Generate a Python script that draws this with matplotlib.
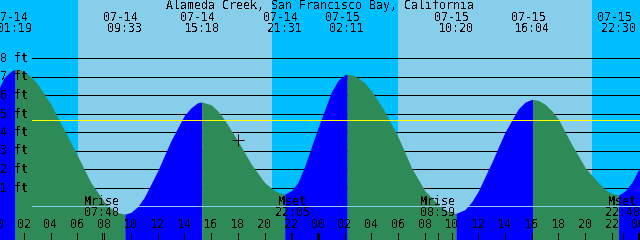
import numpy as np
import matplotlib
matplotlib.use("Agg")
import matplotlib.pyplot as plt
from matplotlib.transforms import blended_transform_factory

plt.rcParams["font.family"] = ["DejaVu Sans Mono"]
plt.rcParams["text.antialiased"] = False

# =========================
# DATA
# =========================
TITLE = "Alameda Creek, San Francisco Bay, California"

# tide extremes
event_dates = ["07-14", "07-14", "07-14", "07-14", "07-15", "07-15", "07-15", "07-15"]
event_times = ["01:19", "09:33", "15:18", "21:31", "02:11", "10:20", "16:04", "22:30"]
event_hours = [1.317, 9.55, 15.3, 21.517, 26.183, 34.333, 40.067, 46.5]

# water level (ft) sampled along the curve, hours from 07-14 00:00
curve_hours = [-0.5, 0, 0.5, 1, 1.317, 1.7, 2, 2.5, 3, 4, 5, 6, 7, 8, 8.5, 9, 9.55,
               10, 10.5, 11, 12, 13, 14, 14.5, 15, 15.3, 16, 16.5, 17, 18, 19, 20, 20.5, 21, 21.517,
               22, 22.5, 23, 24, 25, 25.5, 26, 26.183, 26.6, 27, 27.5, 28, 29, 30, 31, 32, 33, 33.5,
               34, 34.333, 35, 35.5, 36, 37, 38, 39, 39.5, 40, 40.067, 40.5, 41, 41.5, 42, 43, 44,
               45, 45.5, 46, 46.5, 47, 47.5, 48, 48.5]
curve_feet = [5.4, 6.2, 6.95, 7.3, 7.42, 7.38, 7.29, 7.03, 6.64, 5.54, 4.15, 2.75, 1.3, 0.26, -0.1,
              -0.33, -0.41,
              -0.32, -0.01, 0.49, 1.92, 3.56, 4.92, 5.34, 5.61, 5.65, 5.5, 5.17, 4.7, 3.55, 2.3, 1.3,
              1.0, 0.76, 0.68,
              0.85, 1.3, 2.16, 4.24, 6.18, 6.81, 7.12, 7.15, 7.1, 6.96, 6.68, 6.26, 5.14, 3.76, 2.1,
              0.85, 0.11, -0.18,
              -0.34, -0.37, -0.17, 0.24, 0.83, 2.37, 4.02, 5.28, 5.64, 5.79, 5.79, 5.73, 5.53, 5.18,
              4.72, 3.35, 2.1,
              1.28, 0.92, 0.7, 0.62, 0.85, 1.3, 2.0, 2.7]

# sunrise / sunset (hours)
sunrise = [6.04, 29.98]
sunset = [20.56, 44.5]

# moon events
moon_names = ["Mrise", "Mset", "Mrise", "Mset"]
moon_times = ["07:48", "22:05", "08:59", "22:48"]
moon_hours = [7.8, 22.083, 32.983, 46.8]

level_lines = [1, 2, 3, 4, 5, 6, 7, 8]
mean_level = 4.66
now_hour, now_feet = 18.02, 3.62

# =========================
# COLOURS
# =========================
DAY = "#87CEEB"
NIGHT = "#00BFFF"
RISE = "#0000FF"
FALL = "#2E8B57"

W, H = 640, 240
X0, X1 = 0.202, 48.106
Y0, Y1 = -1.811, 11.162
FS = 8.4
PX = 0.72  # one pixel in points


def yfrac(ypix):
    return 1 - ypix / H


fig = plt.figure(figsize=(6.4, 2.4), dpi=100)
ax = fig.add_axes([0, 0, 1, 1])
ax.set_xlim(X0, X1)
ax.set_ylim(Y0, Y1)
ax.axis("off")
tr = blended_transform_factory(ax.transData, ax.transAxes)

# day / night background
ax.axvspan(X0 - 1, X1 + 1, color=NIGHT, lw=0, zorder=0)
for a, b in zip(sunrise, sunset):
    ax.axvspan(a, b, color=DAY, lw=0, zorder=0.5)

# foot lines (behind the water)
x_start = 2.6
for lv in level_lines:
    ax.plot([x_start, X1 + 1], [lv, lv], color="black", lw=PX, zorder=1,
            solid_capstyle="butt", antialiased=False)

# tide curve: blue while rising, green while falling
t = np.array(curve_hours)
h = np.array(curve_feet)
bounds = [t[0]] + event_hours + [t[-1]]
for a, b in zip(bounds[:-1], bounds[1:]):
    m = (t >= a) & (t <= b)
    col = RISE if h[m][-1] > h[m][0] else FALL
    ax.fill_between(t[m], Y0 - 1, h[m], color=col, lw=0, zorder=2, antialiased=False)

# mean level and datum
ax.plot([x_start, X1 + 1], [mean_level, mean_level], color="yellow", lw=PX, zorder=3,
        antialiased=False)
ax.plot([x_start, X1 + 1], [0, 0], color=DAY, lw=PX, zorder=3, antialiased=False)

# foot labels
for lv in level_lines:
    ax.text(0.0, yfrac(206.5 - 18.5 * lv), f"{lv} ft", transform=ax.transAxes,
            fontsize=FS, ha="left", va="center", zorder=5)

# title and extreme labels
ax.text(0.5, yfrac(6), TITLE, transform=ax.transAxes, fontsize=FS,
        ha="center", va="center", zorder=5)
for d, tm, hr in zip(event_dates, event_times, event_hours):
    ax.text(hr - 0.3, yfrac(17.5), d, transform=tr, fontsize=FS, ha="center", va="center", zorder=5)
    ax.text(hr, yfrac(29), tm, transform=tr, fontsize=FS, ha="center", va="center", zorder=5)

# moon labels
for name, tm, hr in zip(moon_names, moon_times, moon_hours):
    ax.text(hr, yfrac(201.5), name, transform=tr, fontsize=FS, ha="center", va="center", zorder=5)
    ax.text(hr, yfrac(212.5), tm, transform=tr, fontsize=FS, ha="center", va="center", zorder=5)
    ax.plot([hr, hr], [yfrac(233), yfrac(240)], transform=tr, color="black", lw=PX,
            zorder=5, antialiased=False)

# hour ticks and labels
for hr in range(0, 49, 2):
    lw = PX * 3 if hr % 24 == 0 else PX
    ax.plot([hr, hr], [yfrac(233), yfrac(241)], transform=tr, color="black", lw=lw,
            zorder=5, solid_capstyle="butt", antialiased=False)
    ax.text(hr, yfrac(225), f"{hr % 24:02d}", transform=tr, fontsize=FS,
            ha="center", va="center", zorder=5)

# current time marker
ax.plot([now_hour], [now_feet], marker="+", ms=8, mew=PX, color="black", zorder=6)

fig.savefig("out.png", dpi=100)
